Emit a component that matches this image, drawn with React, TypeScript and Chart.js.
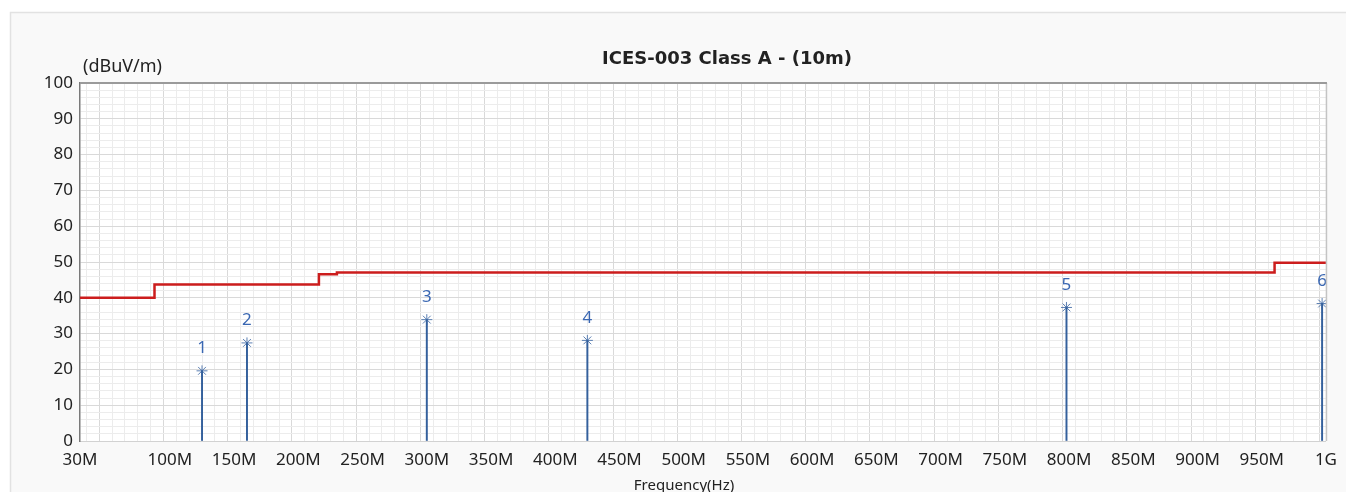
import React, { useEffect, useRef } from 'react';
import { Chart, registerables } from 'chart.js';

Chart.register(...registerables);

// ---- data ----
const limitFreqs = [30, 88, 216, 230, 960, 1000];
const limitLevels = [40, 43.7, 46.6, 47.1, 49.8, 49.8];

const markerFreqs = [125, 160, 300, 425, 798, 997];
const markerLevels = [19.6, 27.4, 33.9, 28.1, 37.3, 38.4];
const markerLabels = ['1', '2', '3', '4', '5', '6'];

const xTickValues = [30, 100, 150, 200, 250, 300, 350, 400, 450, 500, 550, 600, 650, 700, 750, 800, 850, 900, 950, 1000];
const xTickLabels = ['30M', '100M', '150M', '200M', '250M', '300M', '350M', '400M', '450M', '500M', '550M', '600M', '650M', '700M', '750M', '800M', '850M', '900M', '950M', '1G'];
const yTickValues = [0, 10, 20, 30, 40, 50, 60, 70, 80, 90, 100];

const titleText = 'ICES-003 Class A - (10m)';
const yUnitText = '(dBuV/m)';
const xTitleText = 'Frequency(Hz)';

const X_MIN = 30;
const X_MAX = 1000;
const X_MINOR = 10;
const X_MAJOR = 50;
const Y_MINOR = 2;
const Y_MAJOR = 10;

const FONT = "'Noto Sans', sans-serif";
const BLUE = '#34609c';
const LABEL_BLUE = '#3a67b2';

const decorPlugin = {
  id: 'decor',
  beforeDraw(chart: any) {
    const { ctx, chartArea, width, height } = chart;
    ctx.save();
    ctx.fillStyle = '#ffffff';
    ctx.fillRect(0, 0, width, height);
    ctx.fillStyle = '#f9f9f9';
    ctx.fillRect(10, 12, width - 10, height - 12);
    ctx.strokeStyle = '#e2e2e2';
    ctx.lineWidth = 1.5;
    ctx.beginPath();
    ctx.moveTo(10.5, height);
    ctx.lineTo(10.5, 12.5);
    ctx.lineTo(width, 12.5);
    ctx.stroke();
    ctx.fillStyle = '#ffffff';
    ctx.fillRect(chartArea.left, chartArea.top, chartArea.right - chartArea.left, chartArea.bottom - chartArea.top);
    ctx.restore();
  },
  afterDraw(chart: any) {
    const { ctx, chartArea } = chart;
    ctx.save();
    // right border
    ctx.strokeStyle = '#c4c4c4';
    ctx.lineWidth = 1.5;
    ctx.beginPath();
    ctx.moveTo(chartArea.right + 0.5, chartArea.top);
    ctx.lineTo(chartArea.right + 0.5, chartArea.bottom);
    ctx.stroke();
    // top border
    ctx.strokeStyle = '#9a9a9a';
    ctx.lineWidth = 2;
    ctx.beginPath();
    ctx.moveTo(chartArea.left, chartArea.top);
    ctx.lineTo(chartArea.right + 1, chartArea.top);
    ctx.stroke();

    // title
    ctx.fillStyle = '#222222';
    ctx.font = "bold 18px 'DejaVu Sans', sans-serif";
    ctx.textAlign = 'center';
    ctx.textBaseline = 'alphabetic';
    ctx.fillText(titleText, 727, 64);

    // y unit
    ctx.font = `18px ${FONT}`;
    ctx.textAlign = 'left';
    ctx.fillText(yUnitText, 83, 72);

    // x title
    ctx.font = `15px ${FONT}`;
    ctx.textAlign = 'center';
    ctx.fillText(xTitleText, 684, 490);
    ctx.restore();
  },
  afterDatasetsDraw(chart: any) {
    const { ctx } = chart;
    const meta = chart.getDatasetMeta(2);
    ctx.save();
    ctx.fillStyle = LABEL_BLUE;
    ctx.font = `17px ${FONT}`;
    ctx.textAlign = 'center';
    ctx.textBaseline = 'alphabetic';
    meta.data.forEach((el: any, i: number) => {
      ctx.fillText(markerLabels[i], el.x, el.y - 17.5);
    });
    ctx.restore();
  },
};

export default function App() {
  const ref = useRef<HTMLCanvasElement | null>(null);

  useEffect(() => {
    if (!ref.current) return;
    const markerPoints = markerFreqs.map((f, i) => ({ x: f, y: markerLevels[i] }));
    const chart = new Chart(ref.current, {
      type: 'line',
      data: {
        datasets: [
          {
            type: 'line',
            data: limitFreqs.map((f, i) => ({ x: f, y: limitLevels[i] })),
            stepped: 'before',
            borderColor: '#cc1d1d',
            borderWidth: 2.5,
            pointRadius: 0,
            fill: false,
          } as any,
          {
            type: 'bar',
            data: markerPoints,
            backgroundColor: BLUE,
            borderWidth: 0,
            barThickness: 1.3,
            grouped: false,
          } as any,
          {
            type: 'line',
            data: markerPoints,
            showLine: false,
            pointStyle: 'star',
            pointRadius: 5.5,
            pointBorderColor: '#4a72aa',
            pointBackgroundColor: '#4a72aa',
            pointBorderWidth: 0.9,
          } as any,
        ],
      },
      options: {
        animation: false,
        responsive: false,
        devicePixelRatio: 1,
        layout: { padding: { left: 0, right: 20, top: 83, bottom: 0 } },
        plugins: {
          legend: { display: false },
          tooltip: { enabled: false },
          title: { display: false },
        },
        scales: {
          x: {
            type: 'linear',
            min: X_MIN,
            max: X_MAX,
            offset: false,
            afterBuildTicks(scale: any) {
              const vals: number[] = [];
              for (let v = X_MIN; v <= X_MAX; v += X_MINOR) vals.push(v);
              scale.ticks = vals.map((v) => ({ value: v }));
            },
            afterFit(scale: any) {
              scale.height = 51;
            },
            ticks: {
              autoSkip: false,
              maxRotation: 0,
              padding: 9,
              color: '#222222',
              font: { family: FONT, size: 17 },
              callback(value: any) {
                const idx = xTickValues.indexOf(Number(value));
                return idx >= 0 ? xTickLabels[idx] : '';
              },
            },
            grid: {
              drawTicks: false,
              color: (ctx: any) => (ctx.tick && ctx.tick.value % X_MAJOR === 0 ? '#d9d9d9' : '#ececec'),
              lineWidth: 1,
            },
            border: { display: true, color: '#d2d2d2', width: 1 },
          },
          y: {
            type: 'linear',
            min: 0,
            max: 100,
            afterBuildTicks(scale: any) {
              const vals: number[] = [];
              for (let v = 0; v <= 100; v += Y_MINOR) vals.push(v);
              scale.ticks = vals.map((v) => ({ value: v }));
            },
            afterFit(scale: any) {
              scale.width = 80;
            },
            ticks: {
              autoSkip: false,
              padding: 7,
              color: '#222222',
              font: { family: FONT, size: 17 },
              callback(value: any) {
                const v = Number(value);
                return yTickValues.indexOf(v) >= 0 ? String(v) : '';
              },
            },
            grid: {
              drawTicks: false,
              color: (ctx: any) => (ctx.tick && ctx.tick.value % Y_MAJOR === 0 ? '#d9d9d9' : '#ececec'),
              lineWidth: 1,
            },
            border: { display: true, color: '#7a7a7a', width: 1.5 },
          },
        },
      },
      plugins: [decorPlugin],
    } as any);
    return () => chart.destroy();
  }, []);

  return (
    <div style={{ position: 'absolute', left: 0, top: 0, width: 1346, height: 492 }}>
      <canvas ref={ref} width={1346} height={492} style={{ display: 'block', width: 1346, height: 492 }} />
    </div>
  );
}
